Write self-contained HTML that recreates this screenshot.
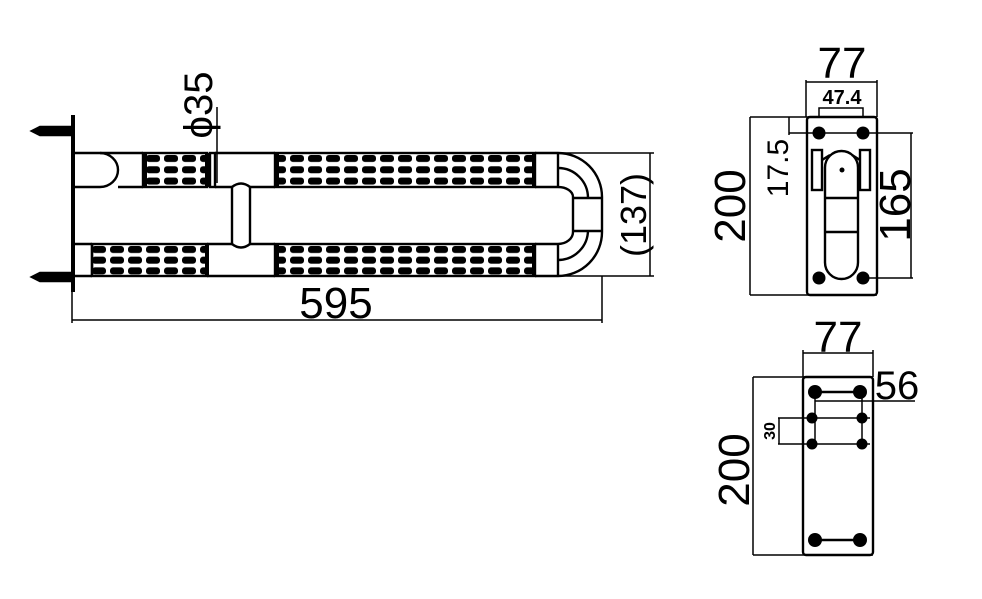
<!DOCTYPE html>
<html><head><style>
html,body{margin:0;padding:0;background:#fff;}
svg{display:block;}
text{font-family:"Liberation Sans",sans-serif;fill:#000;}
</style></head><body>
<svg width="982" height="599" viewBox="0 0 982 599" xmlns="http://www.w3.org/2000/svg">
<defs>
<pattern id="gripT" x="0" y="153" width="18" height="11.3" patternUnits="userSpaceOnUse">
<rect x="2" y="2" width="14" height="7" rx="3" fill="#000"/>
</pattern>
<pattern id="gripB" x="0" y="244" width="18" height="10.7" patternUnits="userSpaceOnUse">
<rect x="2" y="2" width="14" height="7" rx="3" fill="#000"/>
</pattern>
</defs>
<g fill="none" stroke="#000" stroke-width="2.4">
<line x1="73" y1="115" x2="73" y2="292" stroke-width="4"/>
<path d="M71 127 L40 127 L32 131 L40 135 L71 135 Z" fill="#000"/>
<path d="M71 273 L40 273 L32 277 L40 281 L71 281 Z" fill="#000"/>
<path d="M75 153 L100 153 A18 17 0 0 1 100 187 L75 187"/>
<line x1="100" y1="153" x2="143" y2="153"/><line x1="118" y1="187" x2="143" y2="187"/>
<rect x="143" y="153" width="64" height="34" fill="url(#gripT)"/>
<line x1="145" y1="153" x2="145" y2="187" stroke-width="4"/>
<line x1="207" y1="153" x2="207" y2="187" stroke-width="4"/>
<rect x="210" y="153" width="5" height="34"/>
<line x1="215" y1="153" x2="275" y2="153"/><line x1="215" y1="187" x2="232" y2="187"/><line x1="250" y1="187" x2="275" y2="187"/>
<rect x="275" y="153" width="260" height="34" fill="url(#gripT)"/>
<line x1="277" y1="153" x2="277" y2="187" stroke-width="4"/>
<line x1="534" y1="153" x2="534" y2="187" stroke-width="4"/>
<line x1="75" y1="244" x2="92" y2="244"/><line x1="75" y1="276" x2="92" y2="276"/>
<line x1="92" y1="244" x2="92" y2="276"/>
<rect x="92" y="244" width="115" height="32" fill="url(#gripB)"/>
<line x1="207" y1="244" x2="207" y2="276" stroke-width="4"/>
<line x1="207" y1="244" x2="232" y2="244"/><line x1="250" y1="244" x2="275" y2="244"/><line x1="207" y1="276" x2="275" y2="276"/>
<rect x="275" y="244" width="260" height="32" fill="url(#gripB)"/>
<line x1="277" y1="244" x2="277" y2="276" stroke-width="4"/>
<line x1="534" y1="244" x2="534" y2="276" stroke-width="4"/>
<path d="M232 187 L232 244 M250 187 L250 244"/>
<path d="M232 187 Q241 180 250 187 M232 244 Q241 251 250 244"/>
<line x1="535" y1="153" x2="558" y2="153"/><line x1="535" y1="187" x2="558" y2="187"/>
<line x1="535" y1="244" x2="558" y2="244"/><line x1="535" y1="276" x2="558" y2="276"/>
<line x1="558" y1="153" x2="558" y2="187"/><line x1="558" y1="244" x2="558" y2="276"/>
<path d="M558 153 A44 44 0 0 1 602 197 L602 232 A44 44 0 0 1 558 276"/>
<path d="M558 187 A15 10 0 0 1 573 197 L573 232 A15 12 0 0 1 558 244"/>
<path d="M558 168 A30 30 0 0 1 588 198 M588 230 A30 30 0 0 1 558 260"/>
<line x1="573" y1="198" x2="602" y2="198"/><line x1="573" y1="231" x2="602" y2="231"/>
<line x1="217" y1="107" x2="217" y2="183" stroke-width="1.5"/>
<line x1="558" y1="153" x2="654" y2="153" stroke-width="1.5"/>
<line x1="558" y1="276" x2="654" y2="276" stroke-width="1.5"/>
<line x1="650" y1="153" x2="650" y2="276" stroke-width="1.5"/>
<line x1="72" y1="292" x2="72" y2="323" stroke-width="1.5"/>
<line x1="602" y1="276" x2="602" y2="323" stroke-width="1.5"/>
<line x1="72" y1="320" x2="602" y2="320" stroke-width="1.5"/>
<rect x="807" y="117" width="70" height="178" rx="3"/>
<line x1="806" y1="80" x2="806" y2="117" stroke-width="1.5"/>
<line x1="877" y1="80" x2="877" y2="117" stroke-width="1.5"/>
<line x1="806" y1="82" x2="877" y2="82" stroke-width="1.5"/>
<path d="M819 118 L819 108 L863 108 L863 118" stroke-width="1.5"/>
<line x1="750" y1="117" x2="877" y2="117" stroke-width="1.5"/>
<line x1="750" y1="295" x2="877" y2="295" stroke-width="1.5"/>
<line x1="750" y1="117" x2="750" y2="295" stroke-width="1.5"/>
<line x1="789" y1="117" x2="789" y2="135" stroke-width="1.5"/>
<line x1="789" y1="133" x2="913" y2="133" stroke-width="1.5"/>
<line x1="862" y1="278" x2="913" y2="278" stroke-width="1.5"/>
<line x1="911" y1="133" x2="911" y2="278" stroke-width="1.5"/>
<rect x="812" y="150" width="10" height="40"/>
<rect x="860" y="150" width="10" height="40"/>
<rect x="825" y="151" width="33" height="128" rx="16.5"/>
<line x1="825" y1="198" x2="858" y2="198"/><line x1="825" y1="232" x2="858" y2="232"/>
<path d="M822 160 L830 155 M860 160 L852 155"/>
<rect x="803" y="377" width="70" height="178" rx="3"/>
<line x1="803" y1="350" x2="803" y2="377" stroke-width="1.5"/>
<line x1="873" y1="350" x2="873" y2="377" stroke-width="1.5"/>
<line x1="803" y1="353" x2="873" y2="353" stroke-width="1.5"/>
<line x1="753" y1="377" x2="873" y2="377" stroke-width="1.5"/>
<line x1="753" y1="555" x2="873" y2="555" stroke-width="1.5"/>
<line x1="753" y1="377" x2="753" y2="555" stroke-width="1.5"/>
<line x1="815" y1="392" x2="860" y2="392"/>
<line x1="815" y1="401" x2="915" y2="401" stroke-width="1.5"/>
<line x1="778" y1="418" x2="870" y2="418" stroke-width="1.5"/>
<line x1="778" y1="444" x2="870" y2="444" stroke-width="1.5"/>
<line x1="779" y1="418" x2="779" y2="444" stroke-width="1.5"/>
<line x1="815" y1="392" x2="815" y2="444" stroke-width="1.5"/>
<line x1="862" y1="392" x2="862" y2="444" stroke-width="1.5"/>
<line x1="815" y1="540" x2="860" y2="540"/>
</g>
<g fill="#000">
<circle cx="819" cy="133" r="6.5"/><circle cx="863" cy="133" r="6.5"/>
<circle cx="819" cy="278" r="6.5"/><circle cx="863" cy="278" r="6.5"/>
<circle cx="842" cy="170" r="2.5"/>
<circle cx="815" cy="392" r="7"/><circle cx="860" cy="392" r="7"/>
<circle cx="812" cy="418" r="5.5"/><circle cx="862" cy="418" r="5.5"/>
<circle cx="812" cy="444" r="5.5"/><circle cx="862" cy="444" r="5.5"/>
<circle cx="815" cy="540" r="7"/><circle cx="860" cy="540" r="7"/>
</g>
<g>
<text x="336" y="318" font-size="44" text-anchor="middle">595</text>
<text transform="translate(212,105) rotate(-90)" font-size="40" text-anchor="middle">ϕ35</text>
<text transform="translate(646,215) rotate(-90)" font-size="36" text-anchor="middle">(137)</text>
<text x="842" y="78" font-size="44" text-anchor="middle">77</text>
<text x="842" y="104" font-size="20" font-weight="bold" text-anchor="middle">47.4</text>
<text transform="translate(745,206) rotate(-90)" font-size="44" text-anchor="middle">200</text>
<text transform="translate(788,168) rotate(-90)" font-size="30" text-anchor="middle">17.5</text>
<text transform="translate(910,205) rotate(-90)" font-size="44" text-anchor="middle">165</text>
<text x="838" y="352" font-size="44" text-anchor="middle">77</text>
<text x="897" y="399" font-size="40" text-anchor="middle">56</text>
<text transform="translate(749,470) rotate(-90)" font-size="44" text-anchor="middle">200</text>
<text transform="translate(775,431) rotate(-90)" font-size="16" font-weight="bold" text-anchor="middle">30</text>
</g>
</svg>
</body></html>
